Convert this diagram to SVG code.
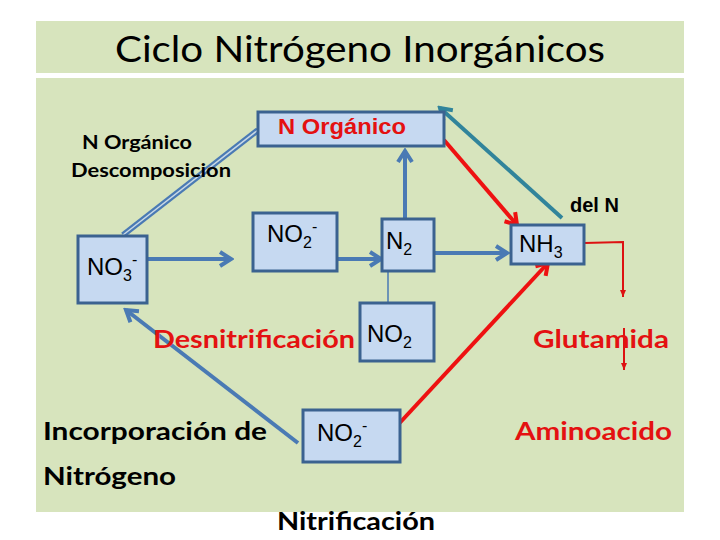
<svg xmlns="http://www.w3.org/2000/svg" width="720" height="540" viewBox="0 0 720 540">
<style>
.bg{fill:#d7e4bd}
.box{fill:#c6d9f1;stroke:#3b6290;stroke-width:3}
.chem{font-family:"Liberation Sans",Arial,sans-serif;font-size:24px;fill:#000}
.sub{font-size:16px}
.lbl{font-family:Lato,"Open Sans",sans-serif;font-weight:bold;fill:#000}
.red{fill:#e41111}
.blue{stroke:#4a7ab4;stroke-width:4;fill:none}
.redl{stroke:#ee1111;stroke-width:4;fill:none}
.teal{stroke:#31849b;stroke-width:4;fill:none}
.thin{stroke:#4a7ab4;stroke-width:1.5;fill:none}
.redthin{stroke:#dd1111;stroke-width:2;fill:none}
</style>
<defs>
<marker id="ab" markerUnits="userSpaceOnUse" markerWidth="18" markerHeight="18" viewBox="0 0 18 18" refX="15" refY="9" orient="auto"><path d="M4,2 L15,9 L4,16" fill="none" stroke="#4a7ab4" stroke-width="4"/></marker>
<marker id="ar" markerUnits="userSpaceOnUse" markerWidth="18" markerHeight="18" viewBox="0 0 18 18" refX="15" refY="9" orient="auto"><path d="M4,2 L15,9 L4,16" fill="none" stroke="#ee1111" stroke-width="4"/></marker>
<marker id="at" markerUnits="userSpaceOnUse" markerWidth="18" markerHeight="18" viewBox="0 0 18 18" refX="15" refY="9" orient="auto"><path d="M4,2 L15,9 L4,16" fill="none" stroke="#31849b" stroke-width="4"/></marker>
<marker id="as" markerUnits="userSpaceOnUse" markerWidth="8" markerHeight="8" viewBox="0 0 8 8" refX="7" refY="4" orient="auto"><path d="M0,1 L7,4 L0,7 Z" fill="#dd1111"/></marker>
</defs>
<rect x="0" y="0" width="720" height="540" fill="#fff"/>
<rect class="bg" x="36" y="21" width="648" height="52"/>
<rect class="bg" x="36" y="78" width="648" height="434"/>
<text x="360" y="62" text-anchor="middle" font-family="Lato,'Open Sans',sans-serif" font-size="36" textLength="490" lengthAdjust="spacingAndGlyphs">Ciclo Nitrógeno Inorgánicos</text>

<g id="connectors">
<line x1="123" y1="235" x2="258" y2="130" stroke="#4a7ab4" stroke-width="6"/>
<line x1="123" y1="235" x2="258" y2="130" stroke="#c9d9e6" stroke-width="1.5"/>
<line class="blue" x1="142" y1="259" x2="231" y2="259" marker-end="url(#ab)"/>
<line class="blue" x1="337" y1="259" x2="381" y2="259" marker-end="url(#ab)"/>
<line class="blue" x1="405" y1="219" x2="405" y2="151" marker-end="url(#ab)"/>
<line class="blue" x1="434" y1="253" x2="507" y2="253" marker-end="url(#ab)"/>
<line class="thin" x1="388" y1="271" x2="388" y2="303"/>
<line class="redl" x1="444" y1="140" x2="517" y2="225" marker-end="url(#ar)"/>
<line class="teal" x1="562" y1="218" x2="440" y2="108" marker-end="url(#at)"/>
<line class="redl" x1="395" y1="428" x2="548" y2="263" marker-end="url(#ar)"/>
<line class="blue" x1="298" y1="443" x2="126" y2="310" marker-end="url(#ab)"/>
<polyline class="redthin" points="584,243 623,242 623,297" marker-end="url(#as)"/>
<line class="redthin" x1="624" y1="328" x2="624" y2="370" marker-end="url(#as)"/>
</g>

<g id="n-organico">
<rect class="box" x="258" y="112" width="186" height="34"/>
<text x="278" y="134" font-family="'Liberation Sans',Arial,sans-serif" font-weight="bold" font-size="22" fill="#e41111" textLength="128" lengthAdjust="spacingAndGlyphs">N Orgánico</text>
</g>
<g id="no3">
<rect class="box" x="78" y="236" width="69" height="67"/>
<text class="chem" x="87" y="275">NO<tspan class="sub" dy="6">3</tspan><tspan class="sub" dy="-16">-</tspan></text>
</g>
<g id="no2-top">
<rect class="box" x="253" y="213" width="84" height="58"/>
<text class="chem" x="267" y="242">NO<tspan class="sub" dy="6">2</tspan><tspan class="sub" dy="-16">-</tspan></text>
</g>
<g id="n2">
<rect class="box" x="382" y="219" width="52" height="52"/>
<text class="chem" x="386" y="249">N<tspan class="sub" dy="6">2</tspan></text>
</g>
<g id="nh3">
<rect class="box" x="511" y="225" width="73" height="39"/>
<text class="chem" x="519" y="252">NH<tspan class="sub" dy="6">3</tspan></text>
</g>
<g id="no2-mid">
<rect class="box" x="360" y="303" width="74" height="58"/>
<text class="chem" x="367" y="342">NO<tspan class="sub" dy="6">2</tspan></text>
</g>
<g id="no2-bot">
<rect class="box" x="303" y="410" width="97" height="52"/>
<text class="chem" x="317" y="441">NO<tspan class="sub" dy="6">2</tspan><tspan class="sub" dy="-16">-</tspan></text>
</g>

<g id="labels">
<text class="lbl" x="82" y="149" font-size="19" textLength="110" lengthAdjust="spacingAndGlyphs">N Orgánico</text>
<text class="lbl" x="71" y="177" font-size="19" textLength="160" lengthAdjust="spacingAndGlyphs">Descomposicion</text>
<text x="570" y="212" font-family="'Liberation Sans',Arial,sans-serif" font-weight="bold" font-size="20">del N</text>
<text class="lbl red" x="153" y="348" font-size="25" textLength="202" lengthAdjust="spacingAndGlyphs">Desnitrificación</text>
<text class="lbl red" x="533" y="348" font-size="25" textLength="136" lengthAdjust="spacingAndGlyphs">Glutamida</text>
<text class="lbl red" x="515" y="440" font-size="25" textLength="157" lengthAdjust="spacingAndGlyphs">Aminoacido</text>
<text class="lbl" x="43" y="440" font-size="25" textLength="224" lengthAdjust="spacingAndGlyphs">Incorporación de</text>
<text class="lbl" x="43" y="485" font-size="25" textLength="133" lengthAdjust="spacingAndGlyphs">Nitrógeno</text>
<text class="lbl" x="277" y="530" font-size="25" textLength="158" lengthAdjust="spacingAndGlyphs">Nitrificación</text>
</g>
</svg>
